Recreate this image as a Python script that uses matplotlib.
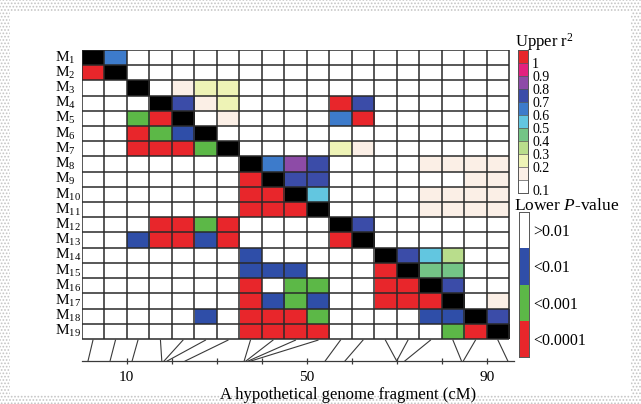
import numpy as np
import matplotlib
matplotlib.use('Agg')
import matplotlib.pyplot as plt
from matplotlib.colors import ListedColormap, BoundaryNorm, to_rgba
from matplotlib.patches import Rectangle

plt.rcParams['font.family'] = ['Liberation Serif', 'DejaVu Serif']
plt.rcParams['mathtext.fontset'] = 'custom'
plt.rcParams['mathtext.rm'] = 'Liberation Serif'
plt.rcParams['mathtext.it'] = 'Liberation Serif:italic'
plt.rcParams['hatch.color'] = '#c4c4c4'
plt.rcParams['hatch.linewidth'] = 0.8

# markers and their positions on the fragment (cM)
markers = [f'M$_{{{i}}}$' for i in range(1, 20)]
genome_pos = [1.4, 6.3, 11.2, 17.8, 18.3, 19.0, 23.0, 36.1, 36.5, 37.0, 37.6,
              54.1, 58.5, 70.0, 70.0, 71.8, 84.4, 84.8, 94.7]

# upper triangle: (row, col, r2)
upper_r2 = [
    (1, 2, 0.65),
    (3, 5, 0.15), (3, 6, 0.25), (3, 7, 0.25),
    (4, 5, 0.75), (4, 6, 0.15), (4, 7, 0.22), (4, 12, 1.0), (4, 13, 0.75),
    (5, 7, 0.15), (5, 12, 0.65), (5, 13, 1.0),
    (7, 12, 0.22), (7, 13, 0.15),
    (8, 9, 0.65), (8, 10, 0.85), (8, 11, 0.75),
    (8, 16, 0.12), (8, 17, 0.12), (8, 18, 0.12), (8, 19, 0.12),
    (9, 10, 0.75), (9, 11, 0.75), (9, 18, 0.12), (9, 19, 0.12),
    (10, 11, 0.55), (10, 16, 0.12), (10, 17, 0.12), (10, 18, 0.12), (10, 19, 0.12),
    (11, 16, 0.12), (11, 17, 0.12), (11, 18, 0.12), (11, 19, 0.12),
    (12, 13, 0.75),
    (14, 15, 0.75), (14, 16, 0.5), (14, 17, 0.35),
    (15, 16, 0.45), (15, 17, 0.45),
    (16, 17, 0.75),
    (17, 19, 0.15),
    (18, 19, 0.75),
]

# lower triangle: (row, col, P class)
lower_p = [
    (2, 1, 3),
    (5, 3, 2), (5, 4, 3),
    (6, 3, 3), (6, 4, 2), (6, 5, 1),
    (7, 3, 3), (7, 4, 3), (7, 5, 3), (7, 6, 2),
    (9, 8, 3),
    (10, 8, 3), (10, 9, 3),
    (11, 8, 3), (11, 9, 3), (11, 10, 3),
    (12, 4, 3), (12, 5, 3), (12, 6, 2), (12, 7, 3),
    (13, 3, 1), (13, 4, 3), (13, 5, 3), (13, 6, 1), (13, 7, 3), (13, 12, 3),
    (14, 8, 1),
    (15, 8, 1), (15, 9, 1), (15, 10, 1), (15, 14, 3),
    (16, 8, 3), (16, 10, 2), (16, 11, 2), (16, 14, 3), (16, 15, 3),
    (17, 8, 3), (17, 9, 1), (17, 10, 2), (17, 11, 1), (17, 14, 3), (17, 15, 3), (17, 16, 3),
    (18, 6, 1), (18, 8, 3), (18, 9, 3), (18, 10, 3), (18, 11, 2), (18, 16, 1), (18, 17, 1),
    (19, 8, 3), (19, 9, 3), (19, 10, 3), (19, 11, 3), (19, 17, 2), (19, 18, 3),
]

r2_colors = ['#ffffff', '#fbefe6', '#eef3b6', '#b9dd8c', '#74c486', '#62c6e0',
             '#3d7bcb', '#3b4ca8', '#8d4ba7', '#e3207f', '#e8262b']
r2_bounds = [0, 0.1, 0.2, 0.3, 0.4, 0.5, 0.6, 0.7, 0.8, 0.9, 0.99, 1.01]
r2_labels = ['1', '0.9', '0.8', '0.7', '0.6', '0.5', '0.4', '0.3', '0.2', '0.1']

p_labels = ['>0.01', '<0.01', '<0.001', '<0.0001']
p_colors = ['#ffffff', '#2f4ea8', '#5cb847', '#e8262b']

n = len(markers)
cell_cm = 5.0

r2_cmap = ListedColormap(r2_colors)
r2_norm = BoundaryNorm(r2_bounds, r2_cmap.N)

img = np.ones((n, n, 4))
for i in range(n):
    img[i, i] = to_rgba('black')
for r, c, v in upper_r2:
    img[r - 1, c - 1] = r2_cmap(r2_norm(v))
for r, c, k in lower_p:
    img[r - 1, c - 1] = to_rgba(p_colors[k])

fig = plt.figure(figsize=(6.41, 4.04), dpi=100)

# dotted frame round the picture
fig.add_artist(Rectangle((0, 0), 1, 1, transform=fig.transFigure, facecolor='white',
                         edgecolor='#c4c4c4', hatch='.....', lw=0, zorder=-10))
fig.add_artist(Rectangle((10 / 641, 9 / 404), 621 / 641, 384 / 404, transform=fig.transFigure,
                         facecolor='white', edgecolor='none', zorder=-9))

ax = fig.add_axes([81.7 / 641, 43 / 404, 432 / 641, 311 / 404])
ax.set_facecolor('none')
ax.imshow(img, extent=(0, n * cell_cm, n, 0), aspect='auto', interpolation='nearest')
edges_x = np.arange(n + 1) * cell_cm
ax.vlines(edges_x, 0, n, color='#2a2a2a', lw=1.1)
ax.hlines(np.arange(n + 1), 0, n * cell_cm, color='#2a2a2a', lw=1.1)

# lines from each column to its map position
y_axis = 20.45
for j, pos in enumerate(genome_pos):
    ax.plot([j * cell_cm + cell_cm / 2, pos], [n + 0.08, y_axis], color='#3a3a3a', lw=0.8,
            clip_on=False)

for i, lab in enumerate(markers):
    ax.text(-5.9, i + 0.5, lab, ha='left', va='center', fontsize=11, clip_on=False)

ax.set_xlim(0, 96)
ax.set_ylim(y_axis, 0)
for s in ['top', 'left', 'right']:
    ax.spines[s].set_visible(False)
ax.spines['bottom'].set_color('#3a3a3a')
ax.spines['bottom'].set_linewidth(0.9)
ax.set_yticks([])
ticks = np.arange(10, 100, 10)
ax.set_xticks(ticks)
ax.set_xticklabels([str(t) if t in (10, 50, 90) else '' for t in ticks], fontsize=11)
ax.tick_params(axis='x', direction='inout', length=4, width=0.9, color='#3a3a3a', pad=5)
ax.set_xlabel('A hypothetical genome fragment (cM)', fontsize=12)
ax.xaxis.set_label_coords(0.6176, -0.085)

# upper colour bar
cax1 = fig.add_axes([518 / 641, (404 - 193) / 404, 10 / 641, 143 / 404])
cax1.imshow(np.arange(len(r2_colors))[:, None], cmap=r2_cmap, origin='lower',
            extent=(0, 1, 0, len(r2_colors)), aspect='auto')
cax1.hlines(np.arange(1, len(r2_colors)), 0, 1, color='#555555', lw=0.5)
cax1.set_xticks([])
cax1.set_yticks(list(range(10, 1, -1)) + [0.25])
cax1.set_yticklabels(r2_labels, fontsize=10)
cax1.yaxis.tick_right()
cax1.tick_params(axis='y', length=0, pad=3)
for s in cax1.spines.values():
    s.set_color('#555555')
    s.set_linewidth(0.7)
fig.text(515 / 641, (404 - 47) / 404, 'Upper r$^2$', fontsize=12, ha='left', va='baseline')

# lower colour bar
cax2 = fig.add_axes([519 / 641, (404 - 357) / 404, 10 / 641, 145 / 404])
cax2.imshow(np.arange(len(p_colors))[::-1][:, None], cmap=ListedColormap(p_colors),
            origin='lower', extent=(0, 1, 0, len(p_colors)), aspect='auto')
cax2.set_xticks([])
cax2.set_yticks(np.arange(len(p_colors))[::-1] + 0.5)
cax2.set_yticklabels(p_labels, fontsize=11.5)
cax2.yaxis.tick_right()
cax2.tick_params(axis='y', length=0, pad=3)
for s in cax2.spines.values():
    s.set_color('#555555')
    s.set_linewidth(0.7)
fig.text(567 / 641, (404 - 210) / 404, 'Lower $\\it{P}$-value', fontsize=12.5, ha='center',
         va='baseline')

fig.savefig('out.png', dpi=100)
